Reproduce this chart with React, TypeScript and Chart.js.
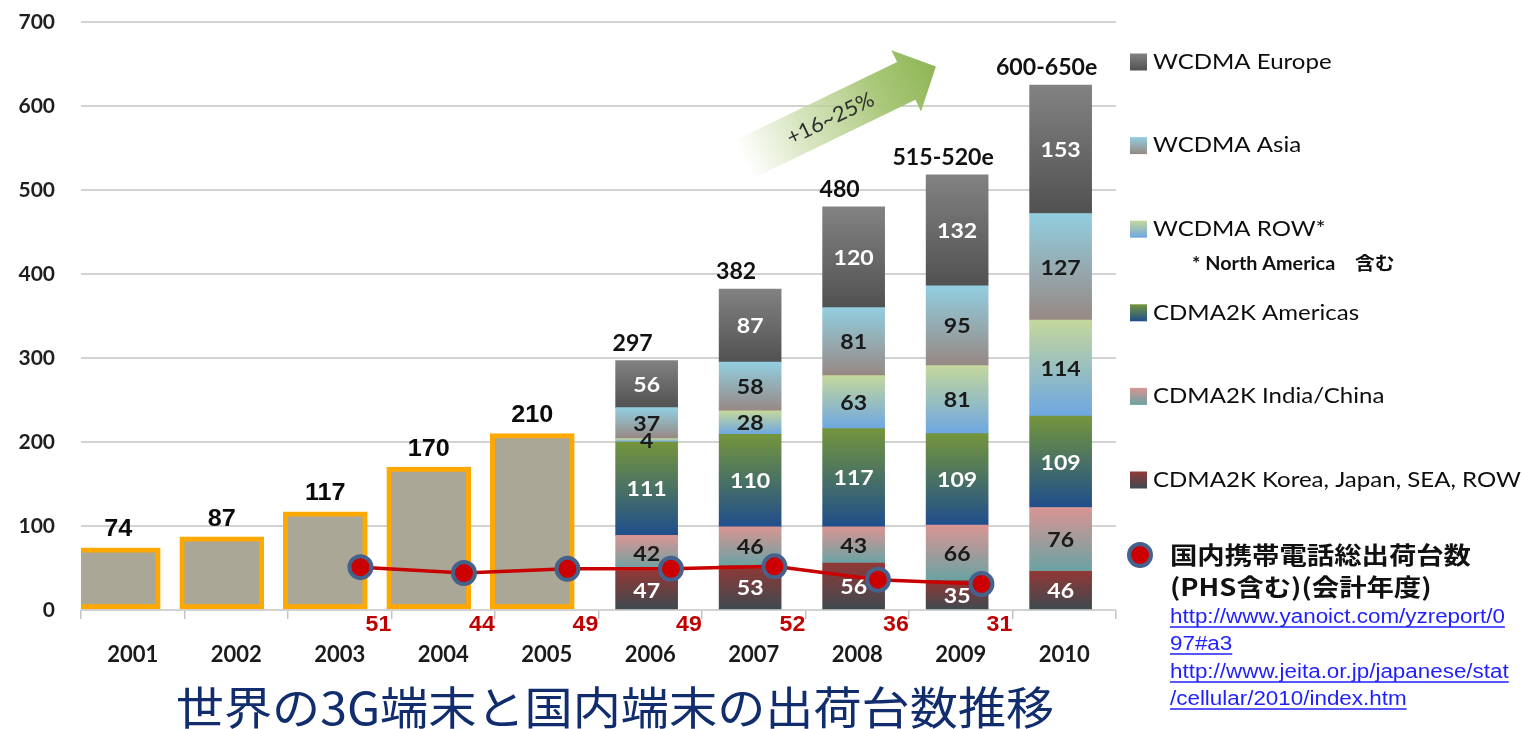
import React, { useEffect, useRef } from 'react';
import { Chart, registerables } from 'chart.js';

Chart.register(...registerables);

// ---------------- data ----------------
const years = ['2001', '2002', '2003', '2004', '2005', '2006', '2007', '2008', '2009', '2010'];
const legacyTotals = [74, 87, 117, 170, 210, null, null, null, null, null];
const cdmaKorea = [null, null, null, null, null, 47, 53, 56, 35, 46];
const cdmaIndiaChina = [null, null, null, null, null, 42, 46, 43, 66, 76];
const cdmaAmericas = [null, null, null, null, null, 111, 110, 117, 109, 109];
const wcdmaRow = [null, null, null, null, null, 4, 28, 63, 81, 114];
const wcdmaAsia = [null, null, null, null, null, 37, 58, 81, 95, 127];
const wcdmaEurope = [null, null, null, null, null, 56, 87, 120, 132, 153];
const totalLabels = [null, null, null, null, null, '297', '382', '480', '515-520e', '600-650e'];
const domesticShipments = [null, null, 51, 44, 49, 49, 52, 36, 31, null];
const seriesNames = [
  'CDMA2K Korea, Japan, SEA, ROW',
  'CDMA2K India/China',
  'CDMA2K Americas',
  'WCDMA ROW*',
  'WCDMA Asia',
  'WCDMA Europe',
];
const rowNote = '* North America\u3000含む';
const domesticName = ['国内携帯電話総出荷台数', '(PHS含む)(会計年度)'];
const sourceLinks = [
  'http://www.yanoict.com/yzreport/0',
  '97#a3',
  'http://www.jeita.or.jp/japanese/stat',
  '/cellular/2010/index.htm',
];
const growthLabel = '+16~25%';
const chartTitle = '世界の3G端末と国内端末の出荷台数推移';
const yMin = 0;
const yMax = 700;
const yStep = 100;

const stackSeries = [cdmaKorea, cdmaIndiaChina, cdmaAmericas, wcdmaRow, wcdmaAsia, wcdmaEurope];

// ---------------- styles ----------------
const SEG_STYLE = [
  { top: '#923836', bottom: '#3c4a50', text: '#ffffff' },
  { top: '#d99593', bottom: '#6aa2a3', text: '#1a1a1a' },
  { top: '#74953c', bottom: '#1f4e8c', text: '#ffffff' },
  { top: '#c4d79c', bottom: '#6ea7e2', text: '#1a1a1a' },
  { top: '#92cee0', bottom: '#978883', text: '#1a1a1a' },
  { top: '#828282', bottom: '#515151', text: '#ffffff' },
];
const SX = 1.1;

function txt(ctx: CanvasRenderingContext2D, s: string, x: number, y: number, font: string, color: string, align: CanvasTextAlign = 'center', sx = 1) {
  ctx.save();
  ctx.font = font;
  ctx.fillStyle = color;
  ctx.textAlign = align;
  ctx.textBaseline = 'middle';
  ctx.translate(x, y);
  ctx.scale(sx, 1);
  ctx.fillText(s, 0, 0);
  const w = ctx.measureText(s).width * sx;
  ctx.restore();
  return w;
}

function segGradient(c: any, k: number) {
  const st = SEG_STYLE[k];
  const chart = c.chart;
  if (!chart.chartArea || c.type !== 'data' || !c.raw) return st.top;
  const i = Math.round(c.raw.x);
  let start = 0;
  for (let j = 0; j < k; j++) start += stackSeries[j][i] || 0;
  const end = start + (stackSeries[k][i] || 0);
  const ys = chart.scales.y;
  const g = chart.ctx.createLinearGradient(0, ys.getPixelForValue(end), 0, ys.getPixelForValue(start));
  g.addColorStop(0, st.top);
  g.addColorStop(1, st.bottom);
  return g;
}

const decor = {
  id: 'decor',
  beforeDatasetsDraw(chart: any) {
    const ctx = chart.ctx as CanvasRenderingContext2D;
    const xs = chart.scales.xv;
    const ys = chart.scales.y;
    const x0 = xs.getPixelForValue(5.9), y0 = ys.getPixelForValue(536);
    const x1 = xs.getPixelForValue(7.76), y1 = ys.getPixelForValue(647);
    const L = Math.hypot(x1 - x0, y1 - y0);
    const ang = Math.atan2(y1 - y0, x1 - x0);
    const sw = 21, hw = 34, hl = 33;
    ctx.save();
    ctx.translate(x0, y0);
    ctx.rotate(ang);
    const g = ctx.createLinearGradient(0, 0, L, 0);
    g.addColorStop(0, 'rgba(200,220,165,0)');
    g.addColorStop(0.3, 'rgba(195,216,160,0.65)');
    g.addColorStop(0.7, 'rgba(165,197,115,0.95)');
    g.addColorStop(1, '#8eb554');
    ctx.fillStyle = g;
    ctx.beginPath();
    ctx.moveTo(0, -sw);
    ctx.lineTo(L - hl, -sw);
    ctx.lineTo(L - hl, -hw);
    ctx.lineTo(L, 0);
    ctx.lineTo(L - hl, hw);
    ctx.lineTo(L - hl, sw);
    ctx.lineTo(0, sw);
    ctx.closePath();
    ctx.fill();
    txt(ctx, growthLabel, L * 0.45, 1, '21px Lato', '#2e2e2e', 'center', 1.05);
    ctx.restore();
  },
  afterDatasetDraw(chart: any, args: any) {
    const ds = chart.data.datasets[args.index];
    const ctx = chart.ctx as CanvasRenderingContext2D;
    if (ds.kind === 'legacy') {
      // all bar labels, drawn once every bar is painted
      chart.data.datasets.forEach((d: any, di: number) => {
        const meta = chart.getDatasetMeta(di);
        if (d.kind === 'segment') {
          meta.data.forEach((el: any, j: number) => {
            const raw = d.data[j];
            txt(ctx, String(raw.y), el.x, (el.y + el.base) / 2 + 1, 'bold 21px Lato', d.labelColor, 'center', SX);
            if (d.isTop) {
              const lbl = totalLabels[Math.round(raw.x)];
              if (lbl) txt(ctx, lbl, el.x - 14, el.y - 17, 'bold 22px Lato', '#111111', 'center', 1.05);
            }
          });
        }
        if (d.kind === 'legacy') {
          meta.data.forEach((el: any, j: number) => {
            txt(ctx, String(d.data[j].y), el.x, el.y - 18, 'bold 24px "Liberation Sans"', '#0a0a0a', 'center', 1.05);
          });
        }
      });
    }
    if (ds.kind === 'domestic') {
      args.meta.data.forEach((el: any, j: number) => {
        txt(ctx, String(ds.data[j].y), el.x + 18, chart.chartArea.bottom + 15, 'bold 22px "Liberation Sans"', '#c00000', 'center', 1.05);
      });
    }
  },
  afterDraw(chart: any) {
    const ctx = chart.ctx as CanvasRenderingContext2D;
    // legend
    const lx = 1130, tx = 1153, y0 = 62, dy = 83.6;
    for (let r = 0; r < 6; r++) {
      const k = 5 - r;
      const y = y0 + r * dy;
      const g = ctx.createLinearGradient(0, y - 8.5, 0, y + 8.5);
      g.addColorStop(0, SEG_STYLE[k].top);
      g.addColorStop(1, SEG_STYLE[k].bottom);
      ctx.fillStyle = g;
      ctx.fillRect(lx, y - 8.5, 17, 17);
      txt(ctx, seriesNames[k], tx, y, '21px Lato', '#0d0d0d', 'left', 1.145);
      if (k === 3) {
        txt(ctx, rowNote, 1192, y + 35, 'bold 18px Lato, "Noto Sans CJK JP"', '#111111', 'left', 1.1);
      }
    }
    // domestic line legend
    ctx.save();
    ctx.beginPath();
    ctx.arc(1140, 555, 11, 0, Math.PI * 2);
    ctx.fillStyle = '#cc0000';
    ctx.fill();
    ctx.lineWidth = 4;
    ctx.strokeStyle = '#44628c';
    ctx.stroke();
    ctx.restore();
    txt(ctx, domesticName[0], 1170, 555, 'bold 24px "Noto Sans CJK JP"', '#111111', 'left', 1.14);
    txt(ctx, domesticName[1], 1170, 587, 'bold 24px "Noto Sans CJK JP"', '#111111', 'left', 1.14);
    const linkY = [617, 644, 672, 699];
    sourceLinks.forEach((s, i) => {
      const w = txt(ctx, s, 1170, linkY[i], '20px "Liberation Sans"', '#1f1fff', 'left', 1.12);
      ctx.save();
      ctx.strokeStyle = '#1f1fff';
      ctx.lineWidth = 1.5;
      ctx.beginPath();
      ctx.moveTo(1170, linkY[i] + 10);
      ctx.lineTo(1170 + w, linkY[i] + 10);
      ctx.stroke();
      ctx.restore();
    });
    // title
    txt(ctx, chartTitle, 615, 708, '45px "Noto Sans CJK JP"', '#112d6e', 'center', 1.07);
  },
};

export default function App() {
  const ref = useRef<HTMLCanvasElement>(null);
  useEffect(() => {
    if (!ref.current) return;
    const toPts = (arr: (number | null)[], shift: number) =>
      arr.map((v, i) => (v == null ? null : { x: i + shift, y: v })).filter(Boolean);
    const segDatasets = stackSeries.map((arr, k) => ({
      type: 'bar',
      kind: 'segment',
      isTop: k === stackSeries.length - 1,
      labelColor: SEG_STYLE[k].text,
      label: seriesNames[k],
      data: toPts(arr, -0.035),
      xAxisID: 'xv',
      yAxisID: 'y',
      stack: 'all',
      barThickness: 62,
      borderWidth: 0,
      backgroundColor: (c: any) => segGradient(c, k),
    }));
    const chart = new Chart(ref.current, {
      type: 'bar',
      data: {
        labels: years,
        datasets: [
          {
            type: 'bar',
            kind: 'legacy',
            label: '3G',
            data: toPts(legacyTotals, -0.14),
            xAxisID: 'xv',
            yAxisID: 'y',
            stack: 'all',
            barThickness: 84,
            backgroundColor: '#aaa796',
            borderColor: '#ffa800',
            borderWidth: 5,
            borderSkipped: false,
          },
          ...segDatasets,
          {
            type: 'line',
            kind: 'domestic',
            label: domesticName.join(''),
            data: toPts(domesticShipments, 0.2),
            xAxisID: 'xv',
            yAxisID: 'y',
            order: -1,
            borderColor: '#c80000',
            borderWidth: 3.5,
            pointRadius: 11,
            pointBorderWidth: 4,
            pointBackgroundColor: '#cc0000',
            pointBorderColor: '#44628c',
            tension: 0,
          },
        ] as any,
      },
      options: {
        responsive: false,
        animation: false,
        devicePixelRatio: 1,
        layout: { padding: { top: 22, right: 408, left: 0, bottom: 0 } },
        plugins: { legend: { display: false }, tooltip: { enabled: false }, title: { display: false } },
        scales: {
          x: {
            type: 'category',
            offset: true,
            border: { display: false },
            grid: { display: true, offset: true, drawOnChartArea: false, drawTicks: true, tickLength: 9, color: '#c4c4c4', lineWidth: 1.5 },
            ticks: { font: { family: 'Lato', size: 22, weight: 'bold' }, color: '#1a1a1a', padding: 23 },
            afterFit: (s: any) => { s.height = 119; },
          },
          xv: { type: 'linear', display: false, min: -0.5, max: 9.5, offset: false },
          y: {
            type: 'linear',
            stacked: true,
            min: yMin,
            max: yMax,
            border: { display: false },
            grid: { color: '#d2d2d2', lineWidth: 2, drawTicks: false },
            ticks: { stepSize: yStep, font: { family: 'Lato', size: 21, weight: 'bold' }, color: '#1f1f1f', padding: 26 },
            afterFit: (s: any) => { s.width = 81; s.paddingTop = 0; s.paddingBottom = 0; },
          },
        },
      } as any,
      plugins: [decor],
    });
    return () => chart.destroy();
  }, []);
  return (
    <div style={{ position: 'fixed', left: 0, top: 0, width: 1524, height: 729, background: '#ffffff' }}>
      <canvas ref={ref} width={1524} height={729} style={{ display: 'block' }} />
    </div>
  );
}
